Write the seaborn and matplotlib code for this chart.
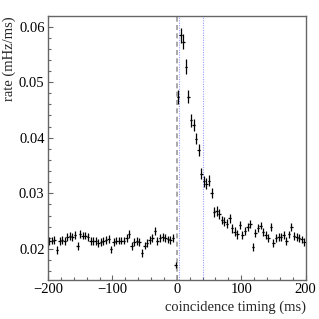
import numpy as np
import matplotlib
matplotlib.use('Agg')
import matplotlib.pyplot as plt
from matplotlib.ticker import MultipleLocator
import seaborn as sns

# 4 ms bins, centres from -198 to 198 ms
timing = np.arange(-198, 200, 4)

rate_neg = [0.0214, 0.0215, 0.0216, 0.0198, 0.0214, 0.0216, 0.0214, 0.0222, 0.0223, 0.0222,
            0.0225, 0.0205, 0.0227, 0.0224, 0.0224, 0.0222, 0.0214, 0.0214, 0.0214, 0.0211,
            0.0213, 0.0214, 0.0216, 0.0218, 0.0199, 0.0213, 0.0215, 0.0215, 0.0215, 0.0215,
            0.0219, 0.0227, 0.0205, 0.0213, 0.0214, 0.0212, 0.0193, 0.0206, 0.0210, 0.0216,
            0.0220, 0.0232, 0.0214, 0.0220, 0.0222, 0.0220, 0.0217, 0.0216, 0.0219, 0.0171]
rate_pos = [0.0473, 0.0584, 0.0573, 0.0528, 0.0474, 0.0431, 0.0423, 0.0398, 0.0378, 0.0335,
            0.0322, 0.0317, 0.0323, 0.0300, 0.0266, 0.0268, 0.0263, 0.0252, 0.0249, 0.0245,
            0.0255, 0.0237, 0.0231, 0.0226, 0.0243, 0.0225, 0.0232, 0.0239, 0.0245, 0.0203,
            0.0229, 0.0237, 0.0242, 0.0231, 0.0225, 0.0219, 0.0240, 0.0210, 0.0219, 0.0221,
            0.0221, 0.0225, 0.0214, 0.0226, 0.0239, 0.0223, 0.0221, 0.0219, 0.0217, 0.0213]

err_neg = [0.0007] * 49 + [0.0006]
err_pos = [0.0012, 0.0013, 0.0014, 0.0013, 0.0012, 0.0011, 0.0011, 0.0010, 0.0011, 0.0010,
           0.0010, 0.0010, 0.0010, 0.0009, 0.0009, 0.0009, 0.0009, 0.0008, 0.0008, 0.0008,
           0.0008, 0.0008, 0.0008, 0.0008, 0.0008, 0.0007, 0.0007, 0.0007, 0.0007, 0.0007,
           0.0007, 0.0007, 0.0007, 0.0007, 0.0007, 0.0007, 0.0007, 0.0007, 0.0007, 0.0007,
           0.0007, 0.0007, 0.0007, 0.0007, 0.0007, 0.0007, 0.0007, 0.0007, 0.0007, 0.0007]

rate = np.array(rate_neg + rate_pos)
rate_err = np.array(err_neg + err_pos)
bin_half = 2.0

sns.set_style('ticks')
plt.rcParams['font.family'] = ['Liberation Serif', 'DejaVu Serif']
plt.rcParams['axes.unicode_minus'] = True

fig = plt.figure(figsize=(3.19, 3.19), dpi=100)
ax = fig.add_axes([0.1505, 0.1223, 0.8075, 0.8275])

# window markers
ax.axvline(0, color='#999999', lw=1.2, ls=(0, (3, 2)))
ax.axvline(3, color='#5a5aff', lw=0.8, ls=(0, (1, 1.2)), alpha=0.6)
ax.axvline(40, color='#5a5aff', lw=0.8, ls=(0, (1, 1.2)), alpha=0.6)

ax.errorbar(timing, rate, yerr=rate_err, xerr=bin_half, fmt='none',
            ecolor='black', elinewidth=0.9, capsize=0)
sns.scatterplot(x=timing, y=rate, ax=ax, s=1.5, color='black', linewidth=0, legend=False)

ax.set_xlim(-200, 200)
ax.set_ylim(0.0144, 0.0619)
ax.xaxis.set_major_locator(MultipleLocator(100))
ax.xaxis.set_minor_locator(MultipleLocator(20))
ax.yaxis.set_major_locator(MultipleLocator(0.01))
ax.yaxis.set_minor_locator(MultipleLocator(0.002))

frame = '#666666'
for sp in ax.spines.values():
    sp.set_visible(True)
    sp.set_color(frame)
    sp.set_linewidth(1.0)

ax.tick_params(which='both', direction='in', colors=frame, labelcolor='black',
               labelsize=10.5, top=False, right=False)
ax.tick_params(which='major', length=3.8, width=0.8, pad=2.5)
ax.tick_params(which='minor', length=2.0, width=0.8)

ax.set_xlabel('coincidence timing (ms)', fontsize=10.5, loc='right', labelpad=3)
ax.set_ylabel('rate (mHz/ms)', fontsize=10.5, loc='top', labelpad=2)

fig.savefig('out.png', dpi=100)
